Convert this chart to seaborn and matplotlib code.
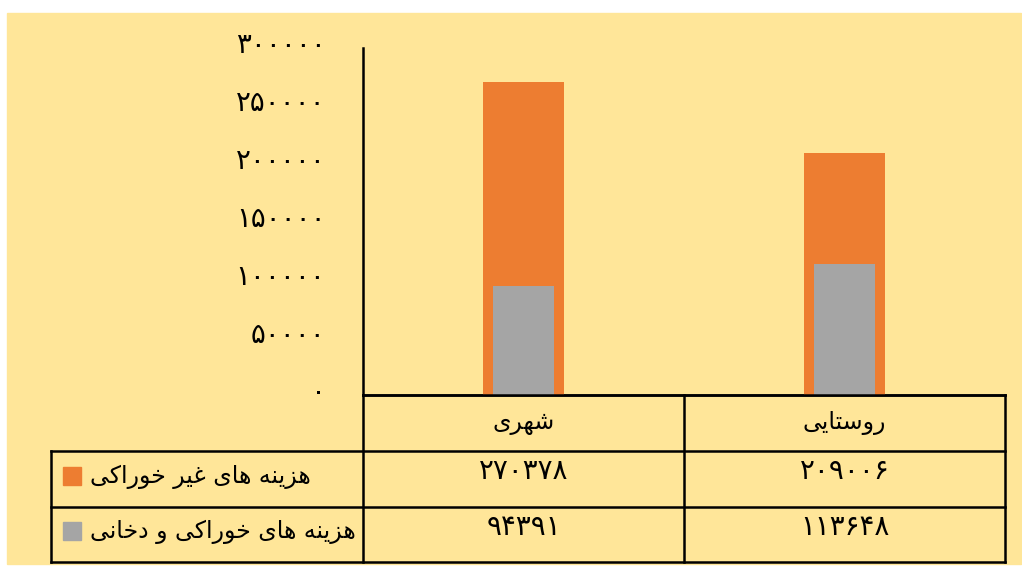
import matplotlib
matplotlib.use("Agg")
import matplotlib.pyplot as plt
import matplotlib.transforms as mtransforms
from matplotlib.patches import Rectangle
import pandas as pd
import seaborn as sns

# chart data
categories = ['شهری', 'روستایی']
non_food = [270378, 209006]
food_tobacco = [94391, 113648]
series_names = ['هزینه های غیر خوراکی', 'هزینه های خوراکی و دخانی']
y_ticks = [0, 50000, 100000, 150000, 200000, 250000, 300000]

ORANGE = '#ED7D31'
GRAY = '#A5A5A5'
YELLOW = '#FFE699'

# matplotlib has no arabic shaping, so pick presentation forms by hand
FORMS = {
    'ا': ('\uFE8D', '\uFE8E'),
    'د': ('\uFEA9', '\uFEAA'),
    'ر': ('\uFEAD', '\uFEAE'),
    'ز': ('\uFEAF', '\uFEB0'),
    'و': ('\uFEED', '\uFEEE'),
    'خ': ('\uFEA5', '\uFEA6', '\uFEA7', '\uFEA8'),
    'س': ('\uFEB1', '\uFEB2', '\uFEB3', '\uFEB4'),
    'ش': ('\uFEB5', '\uFEB6', '\uFEB7', '\uFEB8'),
    'ت': ('\uFE95', '\uFE96', '\uFE97', '\uFE98'),
    'غ': ('\uFECD', '\uFECE', '\uFECF', '\uFED0'),
    'ن': ('\uFEE5', '\uFEE6', '\uFEE7', '\uFEE8'),
    'ه': ('\uFEE9', '\uFEEA', '\uFEEB', '\uFEEC'),
    'ک': ('\uFB8E', '\uFB8F', '\uFB90', '\uFB91'),
    'ی': ('\uFBFC', '\uFBFD', '\uFBFE', '\uFBFF'),
}
FA_DIGITS = str.maketrans('0123456789', '۰۱۲۳۴۵۶۷۸۹')


def farsi(text):
    out = []
    for i, ch in enumerate(text):
        f = FORMS.get(ch)
        if f is None:
            out.append(ch)
            continue
        prev = text[i - 1] if i > 0 else ''
        nxt = text[i + 1] if i + 1 < len(text) else ''
        joins_prev = prev in FORMS and len(FORMS[prev]) == 4
        joins_next = len(f) == 4 and nxt in FORMS
        out.append(f[(1 if joins_prev else 0) + (2 if joins_next else 0)])
    return ''.join(reversed(out))


def fa_num(v):
    return str(v).translate(FA_DIGITS)


W, H = 1022, 567
plt.rcParams['font.family'] = ['DejaVu Sans']
fig = plt.figure(figsize=(W / 100, H / 100), dpi=100, facecolor='white')

# background + table layer, in pixel coords
bg = fig.add_axes([0, 0, 1, 1], zorder=0)
bg.set_xlim(0, W)
bg.set_ylim(H, 0)
bg.axis('off')
bg.add_patch(Rectangle((7, 13), 1014, 551, color=YELLOW, zorder=0))

ax_left, ax_right, ax_top, ax_bottom = 363, 1005, 48, 395
ax = fig.add_axes([ax_left / W, 1 - ax_bottom / H, (ax_right - ax_left) / W, (ax_bottom - ax_top) / H],
                  zorder=1)
ax.set_facecolor('none')

df = pd.DataFrame({'category': categories, 'non_food': non_food, 'food': food_tobacco})
sns.barplot(data=df, x='category', y='non_food', color=ORANGE, width=0.255, saturation=1, ax=ax)
sns.barplot(data=df, x='category', y='food', color=GRAY, width=0.19, saturation=1, ax=ax)

ax.set_xlim(-0.5, 1.5)
ax.set_ylim(0, 300000)
ax.set_yticks(y_ticks)
ax.set_yticklabels([fa_num(t) for t in y_ticks], fontsize=20)
ax.tick_params(axis='y', length=0, pad=27)
ax.set_xticks([])
ax.set_xlabel('')
ax.set_ylabel('')
for s in ['top', 'right']:
    ax.spines[s].set_visible(False)
ax.spines['left'].set_linewidth(1.8)
ax.spines['bottom'].set_linewidth(1.8)
for lab in ax.get_yticklabels():
    lab.set_transform(lab.get_transform() + mtransforms.ScaledTranslation(0, 4 / 72, fig.dpi_scale_trans))

# data table under the plot
row_lines = [395, 451, 507, 562]
lw = 1.8
bg.plot([ax_left, ax_right], [row_lines[0], row_lines[0]], color='black', lw=lw)
for yl in row_lines[1:]:
    bg.plot([51, ax_right], [yl, yl], color='black', lw=lw)
mid = (ax_left + ax_right) / 2
for xl in [ax_left, mid, ax_right]:
    bg.plot([xl, xl], [row_lines[0], row_lines[-1]], color='black', lw=lw)
bg.plot([51, 51], [row_lines[1], row_lines[-1]], color='black', lw=lw)

col_tr = mtransforms.blended_transform_factory(ax.transData, bg.transData)
for i, cat in enumerate(categories):
    bg.text(i, 423, farsi(cat), transform=col_tr, ha='center', va='center', fontsize=17)
    bg.text(i, 471, fa_num(non_food[i]), transform=col_tr, ha='center', va='center', fontsize=20)
    bg.text(i, 527, fa_num(food_tobacco[i]), transform=col_tr, ha='center', va='center', fontsize=20)

for name, color, yc in zip(series_names, [ORANGE, GRAY], [477, 532]):
    bg.add_patch(Rectangle((63, yc - 10), 18, 18, color=color))
    bg.text(90, yc, farsi(name), ha='left', va='center', fontsize=17)

fig.savefig('out.png', dpi=100, facecolor='white')
